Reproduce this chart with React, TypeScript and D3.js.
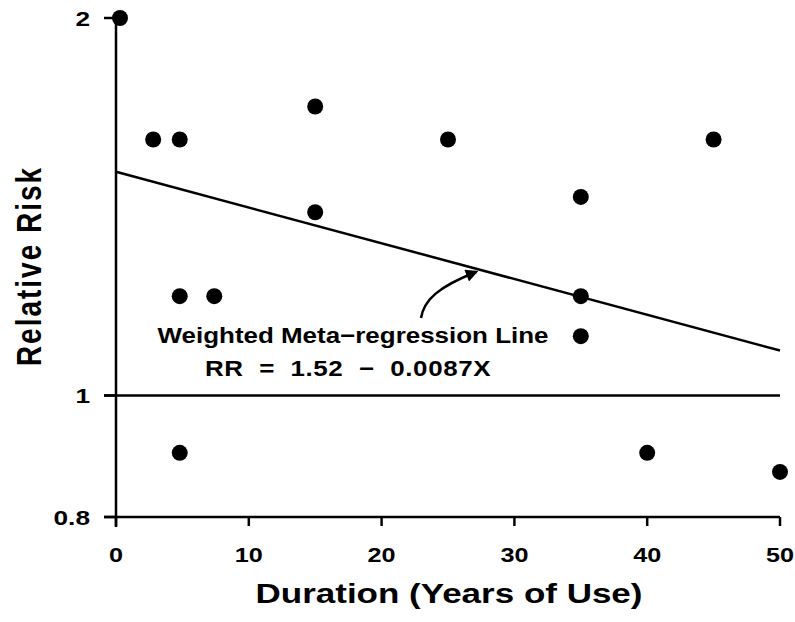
import React from "react";
import * as d3 from "d3";

const durations = [0.3, 2.8, 4.8, 15, 25, 45, 15, 35, 4.8, 7.4, 35, 35, 4.8, 40, 50];
const relativeRisk = [2.0, 1.6, 1.6, 1.7, 1.6, 1.6, 1.4, 1.44, 1.2, 1.2, 1.2, 1.115, 0.9, 0.9, 0.869];
const xTicks = [0, 10, 20, 30, 40, 50];
const yTicks = [0.8, 1, 2];
const regressionX = [0, 50];
const regressionY = [1.508, 1.086];

const W = 795;
const H = 622;
const FONT = "'Liberation Sans', Arial, Helvetica, sans-serif";

function SText(props: {
  x: number;
  y: number;
  sx?: number;
  size: number;
  anchor?: "start" | "middle" | "end";
  rotate?: number;
  ls?: number;
  dy?: string;
  children: React.ReactNode;
}) {
  const { x, y, sx = 1.2, size, anchor = "middle", rotate = 0, ls = 0, dy } = props;
  return (
    <text
      transform={`translate(${x},${y}) scale(${sx},1) rotate(${rotate})`}
      textAnchor={anchor}
      fontSize={size}
      fontWeight="bold"
      letterSpacing={ls}
      dy={dy}
      style={{ whiteSpace: "pre" }}
    >
      {props.children}
    </text>
  );
}

export default function App() {
  const x = d3.scaleLinear().domain([0, 50]).range([116, 780]);
  const y = d3.scaleLog().domain([0.8, 2]).range([517, 18]);
  const line = d3
    .line<number>()
    .x((_, i) => x(regressionX[i]))
    .y((d) => y(d));
  const x0 = x(0);
  const xEnd = x(50);
  const yBase = y(0.8);

  return (
    <svg
      width={W}
      height={H}
      style={{ position: "absolute", left: 0, top: 0, background: "#fff" }}
      fontFamily={FONT}
    >
      <rect x={0} y={0} width={W} height={H} fill="#fff" />
      {/* y axis */}
      <line x1={x0} x2={x0} y1={y(2)} y2={yBase + 10} stroke="#000" strokeWidth={2.5} />
      {yTicks.map((t) => (
        <g key={"yt" + t}>
          <line x1={x0 - 12} x2={x0} y1={y(t)} y2={y(t)} stroke="#000" strokeWidth={2.5} />
          <SText x={90} y={y(t)} size={21} sx={1.25} anchor="end" dy="0.36em">
            {String(t)}
          </SText>
        </g>
      ))}
      {/* x axis */}
      <line x1={x0 - 12} x2={xEnd} y1={yBase} y2={yBase} stroke="#000" strokeWidth={2.5} />
      {xTicks.map((t) => (
        <g key={"xt" + t}>
          <line x1={x(t)} x2={x(t)} y1={yBase} y2={yBase + 9} stroke="#000" strokeWidth={2.5} />
          <SText x={x(t)} y={562} size={21} sx={1.2}>
            {String(t)}
          </SText>
        </g>
      ))}
      {/* reference line at RR = 1 */}
      <line x1={x0 - 12} x2={xEnd} y1={y(1)} y2={y(1)} stroke="#000" strokeWidth={2.5} />
      {/* regression line */}
      <path d={line(regressionY) || ""} fill="none" stroke="#000" strokeWidth={2.5} />
      {/* points */}
      {durations.map((d, i) => (
        <circle key={i} cx={x(d)} cy={y(relativeRisk[i])} r={8} fill="#000" />
      ))}
      {/* annotation */}
      <SText x={353} y={343} size={22} sx={1.18}>
        Weighted Meta−regression Line
      </SText>
      <SText x={348} y={376} size={22} sx={1.18} ls={0.5}>
        {"RR  =  1.52  −  0.0087X"}
      </SText>
      <defs>
        <marker
          id="arrow"
          viewBox="0 0 10 10"
          refX={8}
          refY={5}
          markerWidth={6}
          markerHeight={5}
          orient="auto"
        >
          <path d="M0,0 L10,5 L0,10 Z" fill="#000" />
        </marker>
      </defs>
      <path
        d="M421,318 C424,300 438,287 476,272"
        fill="none"
        stroke="#000"
        strokeWidth={2.5}
        markerEnd="url(#arrow)"
      />
      {/* axis titles */}
      <SText x={449} y={603} size={28} sx={1.25}>
        Duration (Years of Use)
      </SText>
      <text
        transform={`translate(41, 266) scale(1.25,1) rotate(-90)`}
        textAnchor="middle"
        fontSize={28}
        fontWeight="bold"
        letterSpacing={2}
      >
        Relative Risk
      </text>
    </svg>
  );
}
